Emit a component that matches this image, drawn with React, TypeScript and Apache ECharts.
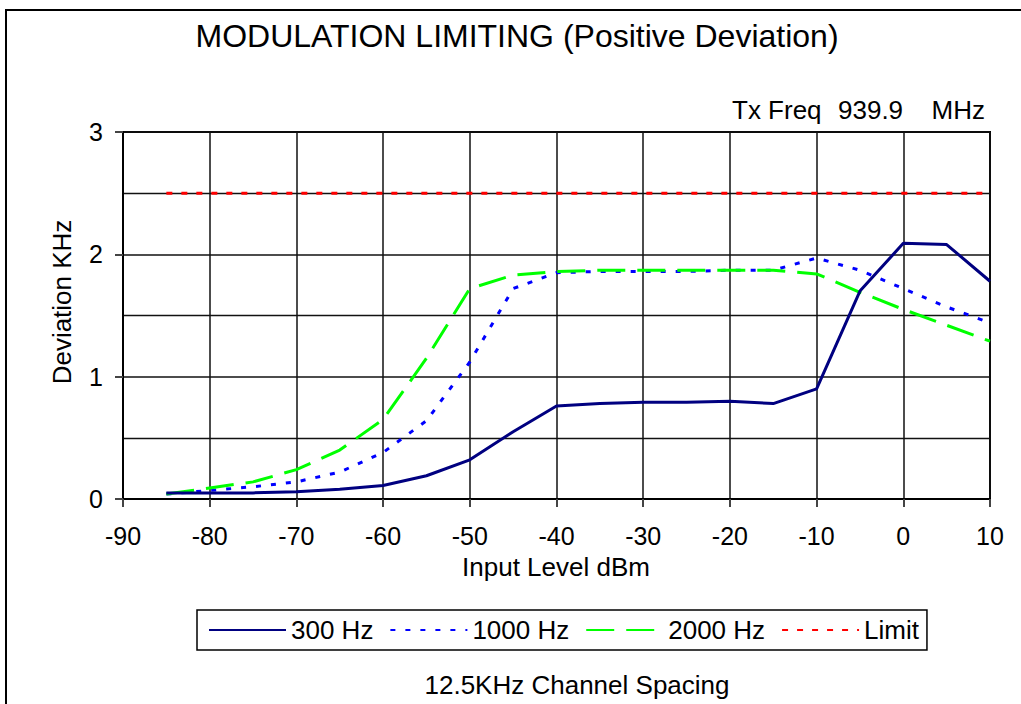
import React, { useEffect, useRef } from "react";
import * as echarts from "echarts";

const inputLevels = [-85, -80, -75, -70, -65, -60, -55, -50, -45, -40, -35, -30, -25, -20, -15, -10, -5, 0, 5, 10];
const hz300 = [0.05, 0.05, 0.05, 0.06, 0.08, 0.11, 0.19, 0.32, 0.55, 0.76, 0.78, 0.79, 0.79, 0.8, 0.78, 0.9, 1.7, 2.09, 2.08, 1.78];
const hz1000 = [0.04, 0.07, 0.1, 0.14, 0.22, 0.38, 0.64, 1.12, 1.72, 1.85, 1.86, 1.86, 1.86, 1.87, 1.87, 1.97, 1.87, 1.72, 1.57, 1.44];
const hz2000 = [0.04, 0.09, 0.14, 0.24, 0.4, 0.65, 1.15, 1.72, 1.83, 1.86, 1.87, 1.87, 1.87, 1.87, 1.87, 1.84, 1.69, 1.55, 1.42, 1.29];
const limit = [2.5, 2.5, 2.5, 2.5, 2.5, 2.5, 2.5, 2.5, 2.5, 2.5, 2.5, 2.5, 2.5, 2.5, 2.5, 2.5, 2.5, 2.5, 2.5, 2.5];
const seriesNames = ["300 Hz", "1000 Hz", "2000 Hz", "Limit"];

const FONT = "'Liberation Sans', Arial, sans-serif";

function pairs(ys: number[]) {
  return inputLevels.map((x, i) => [x, ys[i]]);
}

export default function App() {
  const ref = useRef<HTMLDivElement>(null);
  useEffect(() => {
    if (!ref.current) return;
    const chart = echarts.init(ref.current, undefined, { renderer: "svg" });
    chart.setOption({
      animation: false,
      backgroundColor: "#fff",
      textStyle: { fontFamily: FONT, color: "#000" },
      grid: {
        left: 123,
        right: 31,
        top: 132,
        bottom: 205,
        show: true,
        borderColor: "#000",
        borderWidth: 2,
        backgroundColor: "transparent",
      },
      xAxis: {
        type: "value",
        min: -90,
        max: 10,
        interval: 10,
        axisLine: { show: true, onZero: false, lineStyle: { color: "#000", width: 2 } },
        axisTick: { show: true, length: 8, lineStyle: { color: "#444", width: 2 } },
        axisLabel: { fontSize: 25, color: "#000", margin: 24, fontFamily: FONT },
        splitLine: { show: true, lineStyle: { color: "#111", width: 1.5 } },
      },
      yAxis: {
        type: "value",
        min: 0,
        max: 3,
        interval: 1,
        axisLine: { show: true, onZero: false, lineStyle: { color: "#000", width: 2 } },
        axisTick: { show: true, length: 8, lineStyle: { color: "#444", width: 2 } },
        axisLabel: { fontSize: 25, color: "#000", margin: 20, fontFamily: FONT },
        splitLine: { show: true, lineStyle: { color: "#111", width: 1.5 } },
        minorTick: { show: false, splitNumber: 2 },
        minorSplitLine: { show: true, lineStyle: { color: "#111", width: 1.3 } },
      },
      legend: {
        data: seriesNames,
        left: 197,
        top: 610,
        orient: "horizontal",
        itemWidth: 77,
        itemHeight: 14,
        itemGap: 16,
        padding: [5, 8, 5, 11],
        borderColor: "#000",
        borderWidth: 1.5,
        itemStyle: { opacity: 0 },
        textStyle: { fontSize: 26, color: "#000", fontFamily: FONT, lineHeight: 30 },
      },
      series: [
        {
          name: seriesNames[0],
          type: "line",
          data: pairs(hz300),
          symbol: "none",
          lineStyle: { color: "#000080", width: 3, type: "solid" },
          itemStyle: { color: "#000080" },
          z: 4,
        },
        {
          name: seriesNames[1],
          type: "line",
          data: pairs(hz1000),
          symbol: "none",
          lineStyle: { color: "#0000FF", width: 3, type: [5, 10] },
          itemStyle: { color: "#0000FF" },
          z: 3,
        },
        {
          name: seriesNames[2],
          type: "line",
          data: pairs(hz2000),
          symbol: "none",
          lineStyle: { color: "#00FF00", width: 3, type: [28, 12] },
          itemStyle: { color: "#00FF00" },
          z: 3,
        },
        {
          name: seriesNames[3],
          type: "line",
          data: pairs(limit),
          symbol: "none",
          lineStyle: { color: "#FF0000", width: 3, type: [6, 9] },
          itemStyle: { color: "#FF0000" },
          z: 3,
        },
      ],
      graphic: [
        {
          type: "rect",
          shape: { x: 6, y: 10, width: 1100, height: 800 },
          style: { fill: "none", stroke: "#000", lineWidth: 2 },
          z: -10,
          silent: true,
        },
        {
          type: "text",
          x: 517,
          y: 36,
          style: {
            text: "MODULATION LIMITING (Positive Deviation)",
            fontSize: 32,
            fontFamily: FONT,
            fill: "#000",
            textAlign: "center",
            textVerticalAlign: "middle",
          },
        },
        {
          type: "text",
          x: 732,
          y: 110,
          style: { text: "Tx Freq", fontSize: 26, fontFamily: FONT, fill: "#000", textAlign: "left", textVerticalAlign: "middle" },
        },
        {
          type: "text",
          x: 838,
          y: 110,
          style: { text: "939.9", fontSize: 26, fontFamily: FONT, fill: "#000", textAlign: "left", textVerticalAlign: "middle" },
        },
        {
          type: "text",
          x: 985,
          y: 110,
          style: { text: "MHz", fontSize: 26, fontFamily: FONT, fill: "#000", textAlign: "right", textVerticalAlign: "middle" },
        },
        {
          type: "text",
          x: 62,
          y: 302,
          rotation: Math.PI / 2,
          style: {
            text: "Deviation KHz",
            fontSize: 26,
            fontFamily: FONT,
            fill: "#000",
            textAlign: "center",
            textVerticalAlign: "middle",
          },
        },
        {
          type: "text",
          x: 556,
          y: 567,
          style: {
            text: "Input Level dBm",
            fontSize: 26,
            fontFamily: FONT,
            fill: "#000",
            textAlign: "center",
            textVerticalAlign: "middle",
          },
        },
        {
          type: "text",
          x: 577,
          y: 685,
          style: {
            text: "12.5KHz Channel Spacing",
            fontSize: 26,
            fontFamily: FONT,
            fill: "#000",
            textAlign: "center",
            textVerticalAlign: "middle",
          },
        },
      ],
    });
    return () => chart.dispose();
  }, []);
  return (
    <div
      ref={ref}
      style={{ position: "fixed", left: 0, top: 0, width: 1021, height: 704, background: "#fff" }}
    />
  );
}
